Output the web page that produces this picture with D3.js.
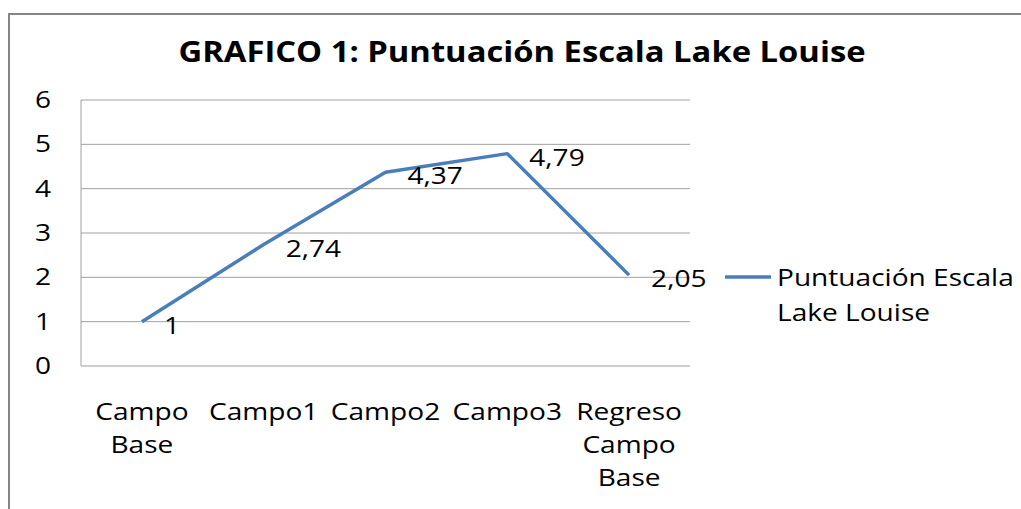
<!DOCTYPE html>
<html>
<head>
<meta charset="utf-8">
<script src="https://cdn.jsdelivr.net/npm/d3@7"></script>
<style>
body { margin: 0; background: #fff; }
text { font-family: "Open Sans", sans-serif; fill: #000; }
</style>
</head>
<body>
<svg class="chart" width="1021" height="509"></svg>
<script>
var categories = [["Campo", "Base"], ["Campo1"], ["Campo2"], ["Campo3"], ["Regreso", "Campo", "Base"]];
var values = [1, 2.74, 4.37, 4.79, 2.05];
var valueLabels = ["1", "2,74", "4,37", "4,79", "2,05"];
var yTicks = [0, 1, 2, 3, 4, 5, 6];
var seriesName = ["Puntuación Escala", "Lake Louise"];
var title = "GRAFICO 1: Puntuación Escala Lake Louise";

var sx = 1.17;          // text looks horizontally stretched in the original
var fontSize = 24;
var plotLeft = 81, plotRight = 690, plotTop = 100, plotBottom = 366;

var svg = d3.select(".chart");

// stretched text helper
function stretchText(g, x, y, str, anchor, size, weight) {
    return g.append("text")
        .attr("transform", "translate(" + x + "," + y + ") scale(" + sx + ",1)")
        .attr("text-anchor", anchor)
        .style("font-size", size + "px")
        .style("font-weight", weight || "normal")
        .text(str);
}

// outer border
svg.append("rect")
    .attr("x", 9).attr("y", 14)
    .attr("width", 1021).attr("height", 520)
    .style("fill", "none")
    .style("stroke", "#868686")
    .style("stroke-width", 2);

stretchText(svg, 522, 62, title, "middle", 28, "bold");

var x = d3.scaleBand()
    .domain(d3.range(categories.length))
    .range([plotLeft, plotRight]);

var y = d3.scaleLinear()
    .domain([0, 6])
    .range([plotBottom, plotTop]);

// gridlines
svg.selectAll("line.grid")
    .data(yTicks.slice(1))
    .enter()
    .append("line")
    .attr("class", "grid")
    .attr("x1", plotLeft).attr("x2", plotRight)
    .attr("y1", function (d) { return y(d); })
    .attr("y2", function (d) { return y(d); })
    .style("stroke", "#a0a0a0")
    .style("stroke-width", 1);

// axis lines
svg.append("line")
    .attr("x1", plotLeft).attr("x2", plotLeft)
    .attr("y1", plotTop).attr("y2", plotBottom)
    .style("stroke", "#a0a0a0");
svg.append("line")
    .attr("x1", plotLeft).attr("x2", plotRight)
    .attr("y1", plotBottom).attr("y2", plotBottom)
    .style("stroke", "#a0a0a0");

// y tick labels
yTicks.forEach(function (t) {
    stretchText(svg, 51, y(t) + 8, String(t), "end", fontSize);
});

// x labels
categories.forEach(function (lines, i) {
    var cx = x(i) + x.bandwidth() / 2;
    lines.forEach(function (l, j) {
        stretchText(svg, cx, 420 + j * 33, l, "middle", fontSize);
    });
});

// series line
var line = d3.line()
    .x(function (d, i) { return x(i) + x.bandwidth() / 2; })
    .y(function (d) { return y(d); });

svg.append("path")
    .datum(values)
    .attr("d", line)
    .style("fill", "none")
    .style("stroke", "#4a7ebb")
    .style("stroke-width", 3.5)
    .style("stroke-linejoin", "round");

// data labels
values.forEach(function (v, i) {
    stretchText(svg, x(i) + x.bandwidth() / 2 + 22, y(v) + 12, valueLabels[i], "start", fontSize);
});

// legend
svg.append("line")
    .attr("x1", 725).attr("x2", 771)
    .attr("y1", 277).attr("y2", 277)
    .style("stroke", "#4a7ebb")
    .style("stroke-width", 3.5);
seriesName.forEach(function (l, j) {
    stretchText(svg, 777, 286 + j * 35, l, "start", fontSize);
});
</script>
</body>
</html>
